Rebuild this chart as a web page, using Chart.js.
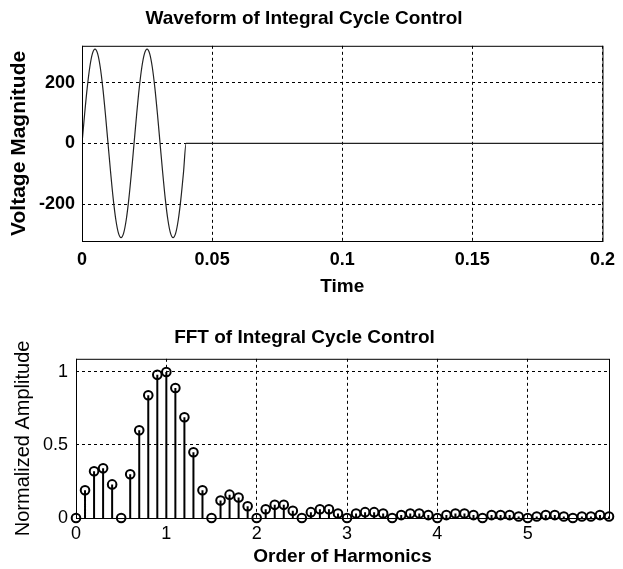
<!DOCTYPE html>
<html>
<head>
<meta charset="utf-8">
<script src="https://cdn.jsdelivr.net/npm/chart.js@4.4.1/dist/chart.umd.min.js"></script>
<style>
  html, body { margin: 0; padding: 0; background: #fff; }
  #wrap { position: relative; width: 623px; height: 569px; }
  canvas { position: absolute; left: 0; }
  #wave { top: 0; }
  #fft { top: 300px; }
</style>
</head>
<body>
<div id="wrap">
  <canvas id="wave" width="623" height="300"></canvas>
  <canvas id="fft" width="623" height="269"></canvas>
</div>
<script>
// top plot: two cycles of the supply, then off
const timeSec = [
  0, 0.001, 0.002, 0.003, 0.004, 0.005, 0.006, 0.007, 0.008, 0.009,
  0.010, 0.011, 0.012, 0.013, 0.014, 0.015, 0.016, 0.017, 0.018, 0.019,
  0.020, 0.021, 0.022, 0.023, 0.024, 0.025, 0.026, 0.027, 0.028, 0.029,
  0.030, 0.031, 0.032, 0.033, 0.034, 0.035, 0.036, 0.037, 0.038, 0.039,
  0.040, 0.2
];
const voltage = [
  0, 96, 183, 252, 296, 311, 296, 252, 183, 96,
  0, -96, -183, -252, -296, -311, -296, -252, -183, -96,
  0, 96, 183, 252, 296, 311, 296, 252, 183, 96,
  0, -96, -183, -252, -296, -311, -296, -252, -183, -96,
  0, 0
];
const timeTicks = [0, 0.05, 0.1, 0.15, 0.2];
const voltTicks = [-200, 0, 200];

// bottom plot: normalized spectrum
const harmonicOrder = [
  0, 0.1, 0.2, 0.3, 0.4, 0.5, 0.6, 0.7, 0.8, 0.9,
  1.0, 1.1, 1.2, 1.3, 1.4, 1.5, 1.6, 1.7, 1.8, 1.9,
  2.0, 2.1, 2.2, 2.3, 2.4, 2.5, 2.6, 2.7, 2.8, 2.9,
  3.0, 3.1, 3.2, 3.3, 3.4, 3.5, 3.6, 3.7, 3.8, 3.9,
  4.0, 4.1, 4.2, 4.3, 4.4, 4.5, 4.6, 4.7, 4.8, 4.9,
  5.0, 5.1, 5.2, 5.3, 5.4, 5.5, 5.6, 5.7, 5.8, 5.9
];
const normAmp = [
  0, 0.19, 0.32, 0.34, 0.23, 0, 0.30, 0.60, 0.84, 0.98,
  1.0, 0.89, 0.69, 0.45, 0.19, 0, 0.12, 0.16, 0.14, 0.08,
  0, 0.06, 0.09, 0.09, 0.05, 0, 0.04, 0.06, 0.06, 0.03,
  0, 0.03, 0.04, 0.04, 0.03, 0, 0.02, 0.03, 0.03, 0.02,
  0, 0.02, 0.03, 0.03, 0.02, 0, 0.02, 0.02, 0.02, 0.01,
  0, 0.01, 0.02, 0.02, 0.01, 0, 0.01, 0.01, 0.02, 0.01
];
const harmonicTicks = [0, 1, 2, 3, 4, 5];
const ampTicks = [0, 0.5, 1];

const FONT = '"Liberation Sans", Arial, sans-serif';

const fixedTicks = vals => scale => { scale.ticks = vals.map(v => ({ value: v })); };

// closed axes box, matlab style
const boxPlugin = {
  id: 'box',
  afterDatasetsDraw(chart) {
    const { ctx, chartArea: a } = chart;
    ctx.save();
    ctx.strokeStyle = '#000';
    ctx.lineWidth = 1;
    ctx.strokeRect(a.left + 0.5, a.top + 0.5, a.right - a.left, a.bottom - a.top);
    ctx.restore();
  }
};

const gridOpts = { color: '#000', lineWidth: 1, drawTicks: false };
const borderOpts = { display: false, dash: [3, 3] };

new Chart(document.getElementById('wave'), {
  type: 'line',
  data: {
    datasets: [{
      data: timeSec.map((t, i) => ({ x: t, y: voltage[i] })),
      borderColor: '#222',
      borderWidth: 1.2,
      pointRadius: 0,
      cubicInterpolationMode: 'monotone'
    }]
  },
  options: {
    responsive: false,
    animation: false,
    events: [],
    layout: { padding: { left: 0, right: 15, top: 0, bottom: 0 } },
    plugins: {
      legend: { display: false },
      tooltip: { enabled: false },
      title: {
        display: true,
        text: 'Waveform of Integral Cycle Control',
        color: '#000',
        font: { family: FONT, size: 19, weight: 'bold' },
        padding: { top: 7, bottom: 16 }
      }
    },
    scales: {
      x: {
        type: 'linear', min: 0, max: 0.2,
        afterBuildTicks: fixedTicks(timeTicks),
        afterFit: s => { s.height = 59; },
        grid: gridOpts,
        border: borderOpts,
        ticks: {
          color: '#000', padding: 8, maxRotation: 0, autoSkip: false,
          font: { family: FONT, size: 18, weight: 'bold' },
          callback: v => String(v)
        },
        title: {
          display: true, text: 'Time', color: '#000',
          font: { family: FONT, size: 19, weight: 'bold' },
          padding: { top: 0, bottom: 2 }
        }
      },
      y: {
        min: -322, max: 322,
        afterBuildTicks: fixedTicks(voltTicks),
        afterFit: s => { s.width = 82; },
        grid: gridOpts,
        border: borderOpts,
        ticks: {
          color: '#000', padding: 7,
          font: { family: FONT, size: 18, weight: 'bold' },
          callback: v => String(v)
        },
        title: {
          display: true, text: 'Voltage Magnitude', color: '#000',
          font: { family: FONT, size: 21, weight: 'bold' },
          padding: { top: 7, bottom: 0 }
        }
      }
    }
  },
  plugins: [boxPlugin]
});

// stems: one segment per harmonic, split by gaps
const stemPoints = [];
harmonicOrder.forEach((h, i) => {
  stemPoints.push({ x: h, y: 0 }, { x: h, y: normAmp[i] }, { x: h, y: null });
});

new Chart(document.getElementById('fft'), {
  type: 'line',
  data: {
    datasets: [
      {
        data: stemPoints,
        borderColor: '#000',
        borderWidth: 2,
        pointRadius: 0,
        spanGaps: false
      },
      {
        data: harmonicOrder.map((h, i) => ({ x: h, y: normAmp[i] })),
        showLine: false,
        clip: false,
        pointRadius: 4.3,
        pointBorderWidth: 2,
        pointBorderColor: '#000',
        pointBackgroundColor: 'rgba(0,0,0,0)'
      }
    ]
  },
  options: {
    responsive: false,
    animation: false,
    events: [],
    layout: { padding: { left: 0, right: 14, top: 0, bottom: 0 } },
    plugins: {
      legend: { display: false },
      tooltip: { enabled: false },
      title: {
        display: true,
        text: 'FFT of Integral Cycle Control',
        color: '#000',
        font: { family: FONT, size: 19, weight: 'bold' },
        padding: { top: 26, bottom: 10 }
      }
    },
    scales: {
      x: {
        type: 'linear', min: 0, max: 5.9,
        afterBuildTicks: fixedTicks(harmonicTicks),
        afterFit: s => { s.height = 51; },
        grid: gridOpts,
        border: borderOpts,
        ticks: {
          color: '#000', padding: 5, maxRotation: 0, autoSkip: false,
          font: { family: FONT, size: 18 },
          callback: v => String(v)
        },
        title: {
          display: true, text: 'Order of Harmonics', color: '#000',
          font: { family: FONT, size: 19, weight: 'bold' },
          padding: { top: 0, bottom: 1 }
        }
      },
      y: {
        min: 0, max: 1.09,
        afterBuildTicks: fixedTicks(ampTicks),
        afterFit: s => { s.width = 76; },
        grid: gridOpts,
        border: borderOpts,
        ticks: {
          color: '#000', padding: 8,
          font: { family: FONT, size: 18 },
          callback: v => String(v)
        },
        title: {
          display: true, text: 'Normalized Amplitude', color: '#000',
          font: { family: FONT, size: 20 },
          padding: { top: 11, bottom: 0 }
        }
      }
    }
  },
  plugins: [boxPlugin]
});
</script>
</body>
</html>
